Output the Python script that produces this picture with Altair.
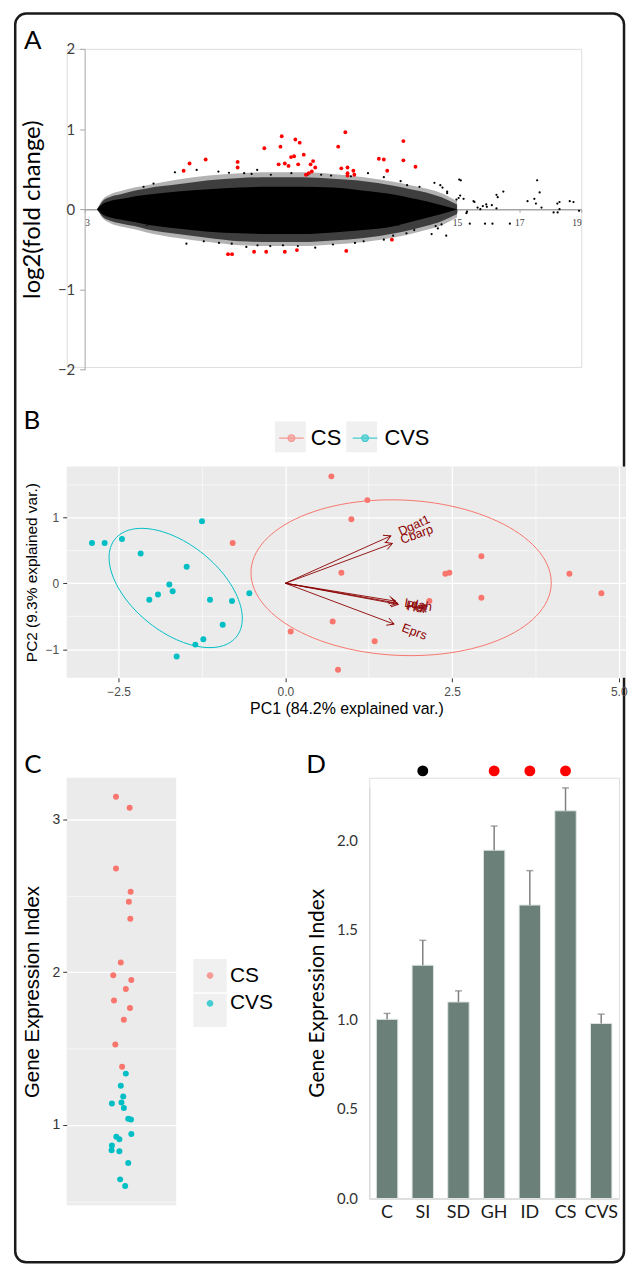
import altair as alt
import numpy as np
import pandas as pd

# ---------------- Panel A : MA plot ----------------
# envelopes of the black cloud (A, log2 fold change): solid core, dense halo, sparse fringe
env_x   = [3.4, 3.6, 3.8, 4.2, 4.6, 5.0, 6.0, 7.0, 8.0, 9.0, 10.0, 11.0, 12.0, 13.0, 13.5, 14.0, 14.5, 15.0]
core_hi = [0.0, 0.07, 0.10, 0.13, 0.16, 0.18, 0.22, 0.25, 0.27, 0.28, 0.28, 0.27, 0.23, 0.18, 0.14, 0.10, 0.05, 0.0]
core_lo = [0.0, -0.07, -0.10, -0.13, -0.16, -0.19, -0.24, -0.28, -0.30, -0.31, -0.31, -0.29, -0.26, -0.21, -0.16, -0.11, -0.06, 0.0]
halo_hi = [0.0, 0.11, 0.15, 0.19, 0.23, 0.26, 0.31, 0.36, 0.39, 0.40, 0.40, 0.38, 0.35, 0.29, 0.25, 0.21, 0.15, 0.06]
halo_lo = [0.0, -0.10, -0.14, -0.18, -0.21, -0.25, -0.31, -0.36, -0.40, -0.41, -0.41, -0.39, -0.36, -0.30, -0.26, -0.21, -0.15, -0.06]
fringe_hi = [0.0, 0.13, 0.18, 0.23, 0.27, 0.30, 0.37, 0.42, 0.45, 0.46, 0.46, 0.44, 0.40, 0.34, 0.30, 0.26, 0.20, 0.10]
fringe_lo = [0.0, -0.12, -0.17, -0.22, -0.25, -0.29, -0.36, -0.41, -0.45, -0.46, -0.46, -0.44, -0.41, -0.35, -0.31, -0.26, -0.20, -0.10]

tail_A = [15.07, 15.12, 14.27, 14.46, 14.53, 14.68, 14.68, 15.10, 15.05, 14.98,
          15.21, 15.53, 15.56, 15.32, 15.30, 15.66, 15.75, 15.83, 15.94, 15.96,
          16.12, 16.27, 16.31, 16.49, 16.27, 15.90, 16.14, 15.41, 16.70, 17.27,
          17.49, 17.54, 17.58, 17.66, 17.72, 18.11, 18.24, 18.23, 18.30, 18.63,
          18.75, 18.30, 18.93, 14.18, 14.65, 14.31, 14.38, 14.50]
tail_M = [0.37, 0.36, 0.33, 0.30, 0.27, 0.22, 0.20, 0.17, 0.14, 0.12,
          0.13, 0.10, 0.09, -0.03, -0.05, 0.02, 0.00, 0.04, 0.06, 0.03,
          0.05, 0.18, 0.15, 0.22, 0.01, -0.18, -0.18, -0.18, -0.18, 0.10,
          0.13, 0.07, 0.36, 0.21, 0.02, -0.04, -0.04, 0.07, 0.09, 0.10,
          0.09, 0.00, -0.02, -0.31, -0.33, -0.21, -0.24, -0.19]
upper_A = [7.31, 7.65, 8.14, 8.56, 9.00, 9.66, 10.62, 12.13, 12.64, 13.18,
           13.39, 13.79, 8.38, 10.19, 10.94, 11.58, 5.91, 4.90, 5.22, 6.61]
upper_M = [0.47, 0.455, 0.45, 0.49, 0.43, 0.45, 0.43, 0.45, 0.40, 0.35,
           0.30, 0.28, 0.44, 0.43, 0.42, 0.41, 0.46, 0.28, 0.32, 0.49]
lower_A = [7.33, 8.21, 8.57, 8.98, 9.39, 10.43, 11.0, 11.71, 11.99, 12.64,
           13.37, 13.62, 12.94, 7.74, 9.87, 6.28, 6.84]
lower_M = [-0.42, -0.47, -0.45, -0.46, -0.45, -0.48, -0.44, -0.42, -0.40, -0.38,
           -0.30, -0.26, -0.33, -0.43, -0.46, -0.43, -0.40]

red_A = [6.19, 6.38, 6.90, 7.93, 7.93, 8.79, 9.25, 9.31, 9.35, 9.45,
         9.57, 9.65, 9.75, 9.79, 9.88, 9.93, 10.06, 10.13, 10.22, 10.28,
         10.32, 10.36, 10.43, 11.17, 11.27, 11.40, 11.47, 11.47, 11.47, 11.66,
         11.69, 12.48, 12.64, 12.75, 13.27, 13.27, 13.66,
         7.62, 7.75, 8.46, 8.85, 9.45, 9.84, 11.43, 12.90]
red_M = [0.48, 0.57, 0.62, 0.59, 0.52, 0.76, 0.56, 0.78, 0.91, 0.57,
         0.54, 0.65, 0.66, 0.87, 0.56, 0.83, 0.68, 0.43, 0.45, 0.56,
         0.47, 0.60, 0.52, 0.78, 0.51, 0.96, 0.52, 0.45, 0.42, 0.48,
         0.43, 0.63, 0.62, 0.48, 0.85, 0.61, 0.53,
         -0.56, -0.56, -0.53, -0.53, -0.53, -0.51, -0.52, -0.38]
ma_x_ticks = [3, 5, 7, 9, 11, 13, 15, 17, 19]
ma_y_ticks = [-2, -1.5, -1, -0.5, 0, 0.5, 1, 1.5, 2]

# ---------------- Panel B : PCA biplot ----------------
cs_pc1 = [-0.79, 0.69, 1.23, 0.99, 0.84, 0.71, 0.08, 1.34, 0.79, 2.94, 2.40, 2.46, 4.26, 4.74, 2.94, 2.16]
cs_pc2 = [0.61, 1.62, 1.26, 0.97, 0.16, -0.58, -0.73, -0.88, -1.31, 0.41, 0.145, 0.16, 0.145, -0.15, -0.22, -0.27]
cvs_pc1 = [-2.90, -2.71, -2.45, -2.17, -1.48, -1.25, -1.74, -1.91, -2.04, -1.69, -1.13, -1.23, -1.35, -1.63, -0.80, -0.94, -0.54]
cvs_pc2 = [0.61, 0.61, 0.67, 0.45, 0.25, 0.94, -0.02, -0.17, -0.25, -0.12, -0.25, -0.85, -0.93, -1.11, -0.27, -0.63, -0.15]
load_names = ["Dgat1", "Cbarp", "Ldah", "Plat", "Hdl", "Eprs"]
load_x = [1.582, 1.606, 1.657, 1.681, 1.696, 1.631]
load_y = [0.718, 0.603, -0.272, -0.302, -0.320, -0.619]
groups = ["CS", "CVS"]
group_colors = ["#F8766D", "#00BFC4"]

# ---------------- Panel C : strip plot ----------------
c_cs_val = [3.147, 3.075, 2.678, 2.526, 2.460, 2.349, 2.063, 1.980, 1.948, 1.889, 1.814, 1.766, 1.689, 1.526, 1.381]
c_cs_jit = [-0.05, 0.075, -0.05, 0.084, 0.068, 0.081, -0.006, -0.075, 0.09, 0.04, -0.068, 0.078, 0.022, -0.056, 0.006]
c_cvs_val = [1.336, 1.256, 1.186, 1.141, 1.147, 1.111, 1.041, 1.036, 0.941, 0.923, 0.907, 0.866, 0.834, 0.828, 0.751, 0.644, 0.601]
c_cvs_jit = [0.04, -0.006, 0.016, -0.087, 0.0, 0.022, 0.062, 0.087, 0.09, -0.047, -0.019, -0.087, -0.09, -0.019, 0.062, -0.012, 0.034]

# ---------------- Panel D : bar chart ----------------
d_groups = ["C", "SI", "SD", "GH", "ID", "CS", "CVS"]
d_values = [1.0, 1.302, 1.097, 1.944, 1.638, 2.164, 0.977]
d_upper = [1.033, 1.441, 1.159, 2.079, 1.830, 2.292, 1.029]
sig_groups = ["SI", "GH", "ID", "CS"]
sig_colors = ["black", "red", "red", "red"]
sig_level = 2.387

ARIAL = "Liberation Sans"
CAL = "Lato"
one = pd.DataFrame({"k": [0]})
IND = dict(color="independent", fill="independent", stroke="independent", opacity="independent")
box_keys = ["_" + g for g in groups]   # separate domain for the grey key boxes

# ======== Panel A ========
A_W, A_H = 517, 319.6
xA = alt.Scale(domain=[3, 19], range=[18, 517], nice=False, zero=False)
yA = alt.Scale(domain=[-2, 2], range=[322.3, 0], nice=False, zero=False)
axA_x = alt.Axis(values=ma_x_ticks, offset=-(A_H - 161.15), title=None, tickSize=3,
                 tickColor="#a6a6a6", domainColor="#a6a6a6", domainWidth=1.6,
                 labelFont="Liberation Serif", labelFontSize=9.5, labelColor="#404040",
                 labelPadding=5, grid=False, zindex=0)
axA_y = alt.Axis(values=ma_y_ticks, labelExpr="datum.value % 1 == 0 ? format(datum.value, 'd') : ''",
                 offset=-18, tickSize=5, tickColor="#a6a6a6", domainColor="#a6a6a6",
                 labelFont=CAL, labelFontSize=15, labelColor="#404040", labelPadding=5,
                 title="log2(fold change)", titleFont=CAL, titleFontSize=24,
                 titleFontWeight="normal", titleColor="black", titlePadding=13, grid=False)

env_df = pd.DataFrame({"A": env_x, "chi": core_hi, "clo": core_lo, "hhi": halo_hi, "hlo": halo_lo,
                       "fhi": fringe_hi, "flo": fringe_lo})
blk_df = pd.DataFrame({"A": tail_A + upper_A + lower_A, "M": tail_M + upper_M + lower_M})
red_df = pd.DataFrame({"A": red_A, "M": red_M})

frame = alt.Chart(one).mark_rect(fillOpacity=0, stroke="#1a1a1a", strokeWidth=2.5, cornerRadius=11).encode(
    x=alt.value(-51.75), x2=alt.value(560), y=alt.value(-35.45), y2=alt.value(1219.3))
fringe = alt.Chart(env_df).mark_area(color="black", opacity=0.3, interpolate="monotone").encode(
    x=alt.X("A:Q", scale=xA, axis=axA_x), y=alt.Y("flo:Q", scale=yA, axis=axA_y), y2="fhi:Q")
halo = alt.Chart(env_df).mark_area(color="black", opacity=0.65, interpolate="monotone").encode(
    x="A:Q", y="hlo:Q", y2="hhi:Q")
core = alt.Chart(env_df).mark_area(color="black", opacity=1, interpolate="monotone").encode(
    x="A:Q", y="clo:Q", y2="chi:Q")
blk = alt.Chart(blk_df).mark_circle(color="black", size=5, opacity=1).encode(x="A:Q", y="M:Q")
red = alt.Chart(red_df).mark_circle(color="#ff0000", size=15, opacity=1).encode(x="A:Q", y="M:Q")
labA = alt.Chart(one).mark_text(text="A", font=CAL, fontSize=26, align="left", baseline="alphabetic", color="black").encode(
    x=alt.value(-43), y=alt.value(0.3))
panelA = alt.layer(frame, fringe, halo, core, blk, red, labA).properties(width=A_W, height=A_H)

# ======== Panel B ========
B_W, B_H = 562, 212.3
xB = alt.Scale(domain=[-3.279, 5.109], nice=False, zero=False)
yB = alt.Scale(domain=[-1.433, 1.769], nice=False, zero=False)
color_scale = alt.Scale(domain=groups, range=group_colors)
box_scale = alt.Scale(domain=box_keys, range=[1, 1])
kx, ky = B_W / (5.109 + 3.279), B_H / (1.769 + 1.433)

pca_df = pd.DataFrame({"pc1": cs_pc1 + cvs_pc1, "pc2": cs_pc2 + cvs_pc2,
                       "grp": ["CS"] * len(cs_pc1) + ["CVS"] * len(cvs_pc1)})
pca_df["key"] = "_" + pca_df["grp"]

ell_rows = []
for g, xs, ys in [("CS", cs_pc1, cs_pc2), ("CVS", cvs_pc1, cvs_pc2)]:
    pts = np.column_stack([xs, ys])
    mu = pts.mean(axis=0)
    sigma = np.cov(pts, rowvar=False)
    ed = np.sqrt(-2 * np.log(1 - 0.68))
    th = np.linspace(-np.pi, np.pi, 120)
    circ = np.column_stack([np.cos(th), np.sin(th)])
    e = circ @ np.linalg.cholesky(sigma).T * ed + mu
    for i, (a, b) in enumerate(e):
        ell_rows.append({"pc1": a, "pc2": b, "grp": g, "i": i})
ell_df = pd.DataFrame(ell_rows)

ld = pd.DataFrame({"name": load_names, "x": load_x, "y": load_y})
ld["x0"] = 0.0
ld["y0"] = 0.0
ld["ang"] = (-np.degrees(np.arctan2(ld["y"] * ky, ld["x"] * kx))) % 360

maj_x = "datum.value % 2.5 == 0"
maj_y = "datum.value % 1 == 0"
axB_x = alt.Axis(values=[-2.5, -1.25, 0, 1.25, 2.5, 3.75, 5.0],
                 labelExpr=f"{maj_x} ? format(datum.value, '.1f') : ''",
                 grid=True, gridColor="white",
                 gridWidth={"condition": {"test": maj_x, "value": 1.3}, "value": 0.6},
                 tickOpacity={"condition": {"test": maj_x, "value": 1}, "value": 0},
                 tickColor="#333333", tickSize=4, domain=False, labelColor="#4D4D4D",
                 labelFont=ARIAL, labelFontSize=12, labelPadding=5,
                 title="PC1 (84.2% explained var.)", titleFont=ARIAL, titleFontSize=16,
                 titleFontWeight="normal", titleColor="black", titlePadding=3)
axB_y = alt.Axis(values=[-1, -0.5, 0, 0.5, 1, 1.5],
                 labelExpr=f"{maj_y} ? format(datum.value, 'd') : ''",
                 grid=True, gridColor="white",
                 gridWidth={"condition": {"test": maj_y, "value": 1.3}, "value": 0.6},
                 tickOpacity={"condition": {"test": maj_y, "value": 1}, "value": 0},
                 tickColor="#333333", tickSize=4, domain=False, labelColor="#4D4D4D",
                 labelFont=ARIAL, labelFontSize=12, labelPadding=4,
                 title="PC2 (9.3% explained var.)", titleFont=ARIAL, titleFontSize=15.5,
                 titleFontWeight="normal", titleColor="black", titlePadding=6)

line_dot = "M-0.8,0L0.8,0M0.22,0A0.22,0.22,0,1,1,-0.22,0A0.22,0.22,0,1,1,0.22,0Z"
legB = alt.Legend(title=None, orient="none", legendX=209.3, legendY=-45.3, direction="horizontal",
                  symbolType=line_dot, symbolSize=961, symbolStrokeWidth=1.2,
                  labelFont=ARIAL, labelFontSize=22, labelColor="black", labelOffset=3,
                  labelBaseline="middle", columnPadding=7, padding=0, zindex=1)
legB_box = alt.Legend(title=None, orient="none", legendX=209.3, legendY=-45.3, direction="horizontal",
                      symbolType="square", symbolSize=961, symbolFillColor="#F0F0F0",
                      symbolStrokeColor="#F0F0F0", symbolStrokeWidth=0, symbolOpacity=1,
                      labelExpr="''", labelFontSize=22, labelOffset=3,
                      columnPadding=37.6, padding=0, zindex=0)

ellB = alt.Chart(ell_df).mark_line(strokeWidth=1).encode(
    x=alt.X("pc1:Q", scale=xB, axis=axB_x), y=alt.Y("pc2:Q", scale=yB, axis=axB_y),
    stroke=alt.Stroke("grp:N", scale=color_scale, legend=legB), order="i:Q")
ptsB = alt.Chart(pca_df).mark_point(filled=True, shape="circle", size=36, strokeWidth=0).encode(
    x="pc1:Q", y="pc2:Q",
    fill=alt.Fill("grp:N", scale=color_scale, legend=legB),
    stroke=alt.Stroke("grp:N", scale=color_scale, legend=legB),
    opacity=alt.Opacity("key:N", scale=box_scale, legend=legB_box))
arrB = alt.Chart(ld).mark_rule(color="#8B0000", strokeWidth=0.9).encode(
    x="x0:Q", y="y0:Q", x2="x:Q", y2="y:Q")
headB = alt.Chart(ld).mark_point(shape="M-1,-0.55L0,0L-1,0.55", size=196, filled=False,
                                 color="#8B0000", strokeWidth=0.9, opacity=1).encode(
    x="x:Q", y="y:Q", angle=alt.Angle("ang:Q", scale=None))
txtB = alt.Chart(ld).mark_text(font=ARIAL, fontSize=12.5, color="#8B0000", align="left",
                               baseline="middle", dx=9).encode(
    x="x:Q", y="y:Q", text="name:N", angle=alt.Angle("ang:Q", scale=None))
labB = alt.Chart(one).mark_text(text="B", font=CAL, fontSize=26, align="left", baseline="alphabetic", color="black").encode(
    x=alt.value(-43.3), y=alt.value(-37.7))
panelB = alt.layer(ellB, ptsB, arrB, headB, txtB, labB).properties(
    width=B_W, height=B_H, view=alt.ViewBackground(fill="#EBEBEB", strokeWidth=0))

# ======== Panel C ========
C_W, C_H = 110, 429.7
c_df = pd.DataFrame({"jit": c_cs_jit + c_cvs_jit, "val": c_cs_val + c_cvs_val,
                     "grp": ["CS"] * len(c_cs_val) + ["CVS"] * len(c_cvs_val)})
c_df["key"] = "_" + c_df["grp"]
yC = alt.Scale(domain=[0.474, 3.272], nice=False, zero=False)
axC_y = alt.Axis(values=[0.5, 1, 1.5, 2, 2.5, 3],
                 labelExpr=f"{maj_y} ? format(datum.value, 'd') : ''",
                 grid=True, gridColor="white",
                 gridWidth={"condition": {"test": maj_y, "value": 1.3}, "value": 0.6},
                 tickOpacity={"condition": {"test": maj_y, "value": 1}, "value": 0},
                 tickColor="#333333", tickSize=4, domain=False, labelColor="#333333",
                 labelFont=ARIAL, labelFontSize=14, labelPadding=3,
                 title="Gene Expression Index", titleFont=ARIAL, titleFontSize=20.5,
                 titleFontWeight="normal", titleColor="black", titlePadding=10)
dot = "M0.2,0A0.2,0.2,0,1,1,-0.2,0A0.2,0.2,0,1,1,0.2,0Z"
legC = alt.Legend(title=None, orient="none", legendX=127, legendY=181.8, direction="vertical",
                  symbolType=dot, symbolSize=1122, symbolStrokeWidth=0,
                  labelFont=ARIAL, labelFontSize=21, labelColor="black", labelOffset=3,
                  labelBaseline="middle", rowPadding=1, padding=0, zindex=1)
legC_box = alt.Legend(title=None, orient="none", legendX=127, legendY=181.8, direction="vertical",
                      symbolType="square", symbolSize=1122, symbolFillColor="#F0F0F0",
                      symbolStrokeColor="#F0F0F0", symbolStrokeWidth=0, symbolOpacity=1,
                      labelExpr="''", labelFontSize=21, labelOffset=3,
                      rowPadding=1, padding=0, zindex=0)
ptsC = alt.Chart(c_df).mark_circle(size=36).encode(
    x=alt.X("jit:Q", scale=alt.Scale(domain=[-0.5, 0.5], nice=False, zero=False), axis=None),
    y=alt.Y("val:Q", scale=yC, axis=axC_y),
    color=alt.Color("grp:N", scale=color_scale, legend=legC),
    opacity=alt.Opacity("key:N", scale=box_scale, legend=legC_box))
labC = alt.Chart(one).mark_text(text="C", font=CAL, fontSize=26, align="left", baseline="alphabetic", color="black").encode(
    x=alt.value(-42.7), y=alt.value(-4.5))
panelC = alt.layer(ptsC, labC).properties(
    width=C_W, height=C_H, view=alt.ViewBackground(fill="#EBEBEB", strokeWidth=0))

# ======== Panel D ========
D_W, D_H = 251, 422.8
d_df = pd.DataFrame({"grp": d_groups, "val": d_values, "up": d_upper})
s_df = pd.DataFrame({"grp": sig_groups, "col": sig_colors})
xD = alt.X("grp:N", sort=d_groups, scale=alt.Scale(domain=d_groups, paddingInner=0.4, paddingOuter=0.2),
           axis=alt.Axis(title=None, labelAngle=0, labelFont=CAL, labelFontSize=18, labelColor="#1a1a1a",
                         ticks=False, domainColor="#d9d9d9", domainWidth=1.3, labelPadding=5))
yDs = alt.Scale(domain=[0, 2.296], range=[D_H, 9.5], nice=False, zero=True)
axD_y = alt.Axis(values=[0, 0.5, 1, 1.5, 2], format=".1f", ticks=False, grid=False,
                 domainColor="#d9d9d9", domainWidth=1.3, labelFont=CAL, labelFontSize=15,
                 labelColor="#333333", labelPadding=12, title="Gene Expression Index",
                 titleFont=CAL, titleFontSize=21, titleFontWeight="normal", titleColor="black",
                 titlePadding=9)
barsD = alt.Chart(d_df).mark_bar(color="#6a8078", stroke="#dfe5e2", strokeWidth=1).encode(
    x=xD, y=alt.Y("val:Q", scale=yDs, axis=axD_y))
errD = alt.Chart(d_df).mark_rule(color="#808080", strokeWidth=1.5).encode(
    x=alt.X("grp:N", sort=d_groups), y="val:Q", y2="up:Q")
capD = alt.Chart(d_df).mark_tick(color="#808080", thickness=1.5, size=7).encode(
    x=alt.X("grp:N", sort=d_groups), y="up:Q")
sigD = alt.Chart(s_df).mark_circle(size=120, opacity=1).encode(
    x=alt.X("grp:N", sort=d_groups), y=alt.datum(sig_level),
    color=alt.Color("col:N", scale=None))
labD = alt.Chart(one).mark_text(text="D", font=CAL, fontSize=26, align="left", baseline="alphabetic", color="black").encode(
    x=alt.value(-63.3), y=alt.value(-4.5))
panelD = alt.layer(barsD, errD, capD, sigD, labD).properties(width=D_W, height=D_H)

row3 = alt.hconcat(panelC, panelD, spacing=194, bounds="flush").resolve_scale(**IND).resolve_legend(**IND)
chart = alt.vconcat(panelA, panelB, row3, spacing=99.7, bounds="flush").resolve_scale(**IND).resolve_legend(**IND).properties(
    padding={"left": 5, "top": 0, "right": 0, "bottom": 0}
).configure_view(strokeWidth=0).configure(background="white")

chart.save("out.html", embed_options={"renderer": "svg", "actions": False})
